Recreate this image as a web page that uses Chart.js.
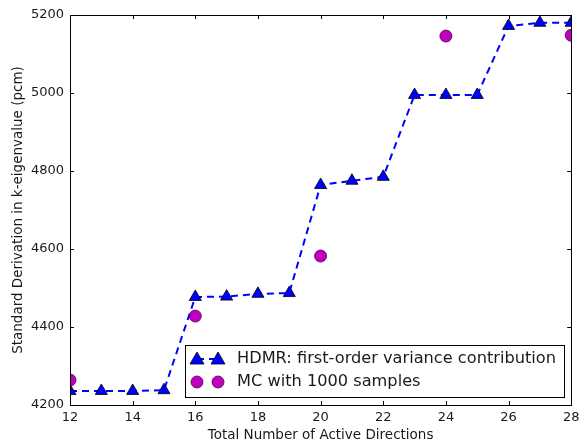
<!DOCTYPE html>
<html><head><meta charset="utf-8">
<script src="https://cdn.jsdelivr.net/npm/chart.js@4"></script>
<style>html,body{margin:0;padding:0;background:#fff}#wrap{width:579px;height:444px}</style>
</head><body><div id="wrap"><canvas id="c"></canvas></div>
<script>
const directions = [12,13,14,15,16,17,18,19,20,21,22,23,24,25,26,27,28];
const hdmrValues = [4236,4236,4236,4238,4477,4478,4485,4487,4764,4775,4785,4995,4995,4995,5172,5180,5180];
const mcDirections = [12,16,20,24,28];
const mcValues = [4264,4428,4582,5146,5148];
const xTicks = [12,14,16,18,20,22,24,26,28];
const yTicks = [4200,4400,4600,4800,5000,5200];
const hdmrLabel = 'HDMR: first-order variance contribution';
const mcLabel = 'MC with 1000 samples';

const FONT = '"DejaVu Sans", sans-serif';
const TEXT = '#1a1a1a';

const framePlugin = {
  id: 'frame',
  afterDatasetsDraw(chart) {
    const {ctx, chartArea: a, scales: {x, y}} = chart;
    ctx.save();
    ctx.strokeStyle = '#000';
    ctx.lineWidth = 1;
    ctx.beginPath();
    xTicks.forEach(v => {
      const px = Math.round(x.getPixelForValue(v)) + 0.5;
      ctx.moveTo(px, a.bottom); ctx.lineTo(px, a.bottom - 4);
      ctx.moveTo(px, a.top); ctx.lineTo(px, a.top + 4);
    });
    yTicks.forEach(v => {
      const py = Math.round(y.getPixelForValue(v)) + 0.5;
      ctx.moveTo(a.left, py); ctx.lineTo(a.left + 4, py);
      ctx.moveTo(a.right, py); ctx.lineTo(a.right - 4, py);
    });
    ctx.stroke();
    ctx.strokeRect(Math.round(a.left) + 0.5, Math.round(a.top) + 0.5, Math.round(a.right - a.left), Math.round(a.bottom - a.top));

    // legend
    const lx = 185, ly = 345, lw = 379, lh = 52;
    ctx.fillStyle = '#fff';
    ctx.fillRect(lx, ly, lw, lh);
    ctx.strokeRect(lx + 0.5, ly + 0.5, lw, lh);
    const r1 = 359, r2 = 382;
    ctx.strokeStyle = '#0000ff';
    ctx.lineWidth = 2;
    ctx.setLineDash([7, 5]);
    ctx.beginPath(); ctx.moveTo(197, r1); ctx.lineTo(218, r1); ctx.stroke();
    ctx.setLineDash([]);
    const tri = (cx, cy) => {
      ctx.beginPath();
      ctx.moveTo(cx, cy - 7); ctx.lineTo(cx + 7, cy + 5); ctx.lineTo(cx - 7, cy + 5); ctx.closePath();
      ctx.fillStyle = '#0000ff'; ctx.fill();
      ctx.strokeStyle = '#000'; ctx.lineWidth = 0.8; ctx.stroke();
    };
    tri(197, r1); tri(218, r1);
    const circ = (cx, cy) => {
      ctx.beginPath(); ctx.arc(cx, cy, 6, 0, Math.PI * 2);
      ctx.fillStyle = '#bf00bf'; ctx.fill();
      ctx.strokeStyle = '#4a004a'; ctx.lineWidth = 0.8; ctx.stroke();
    };
    circ(197, r2); circ(218, r2);
    ctx.fillStyle = TEXT;
    ctx.font = '16.2px ' + FONT;
    ctx.textBaseline = 'middle';
    ctx.textAlign = 'left';
    ctx.fillText(hdmrLabel, 237, r1);
    ctx.fillText(mcLabel, 237, r2);
    ctx.restore();
  }
};

new Chart(document.getElementById('c'), {
  type: 'scatter',
  data: {
    datasets: [
      {
        label: hdmrLabel,
        data: directions.map((d, i) => ({x: d, y: hdmrValues[i]})),
        showLine: true,
        borderColor: '#0000ff',
        borderWidth: 2,
        borderDash: [7, 5],
        pointStyle: 'triangle',
        pointRadius: 7,
        pointBackgroundColor: '#0000ff',
        pointBorderColor: '#000',
        pointBorderWidth: 0.8,
        clip: 0,
        order: 2
      },
      {
        label: mcLabel,
        data: mcDirections.map((d, i) => ({x: d, y: mcValues[i]})),
        showLine: false,
        pointStyle: 'circle',
        pointRadius: 6,
        pointBackgroundColor: '#bf00bf',
        pointBorderColor: '#4a004a',
        pointBorderWidth: 0.8,
        clip: 0,
        order: 1
      }
    ]
  },
  options: {
    responsive: true,
    maintainAspectRatio: false,
    animation: false,
    layout: {padding: {top: 15, right: 7, left: 0, bottom: 0}},
    plugins: {legend: {display: false}, tooltip: {enabled: false}},
    scales: {
      x: {
        type: 'linear', min: 12, max: 28,
        afterBuildTicks: s => { s.ticks = xTicks.map(v => ({value: v})); },
        afterFit: s => { s.height = 39; s.paddingLeft = 0; s.paddingRight = 0; },
        grid: {display: false, drawTicks: false},
        border: {display: false},
        ticks: {color: TEXT, font: {family: FONT, size: 13}, padding: 5, maxRotation: 0, autoSkip: false},
        title: {display: true, text: 'Total Number of Active Directions', color: TEXT, font: {family: FONT, size: 13.5}, padding: {top: 0, bottom: 0}}
      },
      y: {
        type: 'linear', min: 4200, max: 5200,
        afterBuildTicks: s => { s.ticks = yTicks.map(v => ({value: v})); },
        afterFit: s => { s.width = 70; s.paddingTop = 0; s.paddingBottom = 0; },
        grid: {display: false, drawTicks: false},
        border: {display: false},
        ticks: {color: TEXT, font: {family: FONT, size: 13}, padding: 6, callback: v => String(v)},
        title: {display: true, text: 'Standard Derivation in k-eigenvalue (pcm)', color: TEXT, font: {family: FONT, size: 13.5}, padding: {top: 10, bottom: 2}}
      }
    }
  },
  plugins: [framePlugin]
});
</script>
</body></html>
